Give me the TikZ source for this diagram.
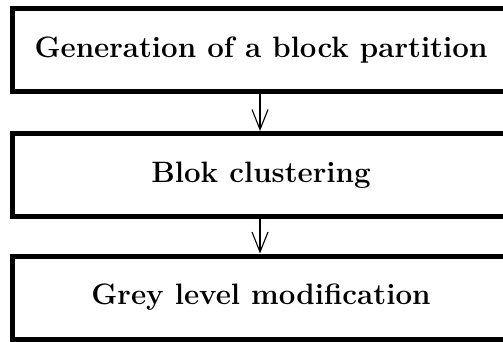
\documentclass[tikz,border=0pt]{standalone}
\usetikzlibrary{arrows.meta}
\begin{document}
\begin{tikzpicture}[x=1pt,y=1pt,
  stagebox/.style={draw=black, line width=5pt, rectangle,
    minimum width=497pt, minimum height=83pt, inner sep=0pt,
    font=\fontsize{29.5}{35}\bfseries},
  flow/.style={line width=1.1pt, -{Straight Barb[length=20pt,width=16pt,line width=1.1pt]}}]
  \clip (0,0) rectangle (503,-341);
  \useasboundingbox (0,0) rectangle (503,-341);
  \node[stagebox] (gen) at (261,-50) {Generation of a block partition};
  \node[stagebox] (clu) at (261,-175) {Blok clustering};
  \node[stagebox] (grey) at (261,-297.5) {Grey level modification};
  \draw[flow] (gen.south -| 260,0) -- (clu.north -| 260,0);
  \draw[flow] (clu.south -| 260,0) -- (grey.north -| 260,0);
\end{tikzpicture}
\end{document}
